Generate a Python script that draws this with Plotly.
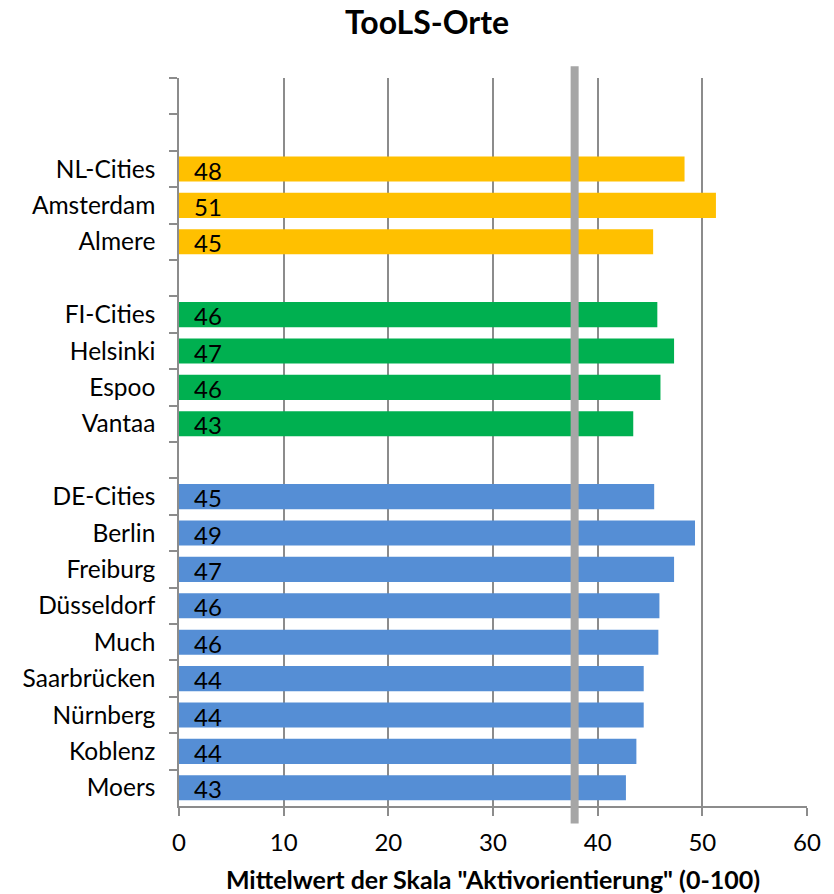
import plotly.graph_objects as go

# Rows from top to bottom; blank strings are spacer rows between country groups
categories = [" ", "  ", "NL-Cities", "Amsterdam", "Almere", "   ",
              "FI-Cities", "Helsinki", "Espoo", "Vantaa", "    ",
              "DE-Cities", "Berlin", "Freiburg", "Düsseldorf", "Much",
              "Saarbrücken", "Nürnberg", "Koblenz", "Moers"]

nl_cities = ["NL-Cities", "Amsterdam", "Almere"]
nl_values = [48.3, 51.3, 45.3]

fi_cities = ["FI-Cities", "Helsinki", "Espoo", "Vantaa"]
fi_values = [45.7, 47.3, 46.0, 43.4]

de_cities = ["DE-Cities", "Berlin", "Freiburg", "Düsseldorf", "Much",
             "Saarbrücken", "Nürnberg", "Koblenz", "Moers"]
de_values = [45.4, 49.3, 47.3, 45.9, 45.8, 44.4, 44.4, 43.7, 42.7]

reference_value = 37.8
x_ticks = [0, 10, 20, 30, 40, 50, 60]

FONT = "Lato"
groups = [
    (nl_cities, nl_values, "#FFC000"),
    (fi_cities, fi_values, "#00B050"),
    (de_cities, de_values, "#558ED5"),
]

fig = go.Figure()
annotations = []
for names, vals, color in groups:
    fig.add_trace(go.Bar(
        y=names, x=vals, orientation="h",
        marker=dict(color=color, line=dict(width=0)),
        showlegend=False, hoverinfo="x+y",
    ))
    for n, v in zip(names, vals):
        annotations.append(dict(
            x=0, y=n, xref="x", yref="y", text=f"{round(v)}",
            showarrow=False, xanchor="left", xshift=13, yshift=-1,
            font=dict(family=FONT, size=24, color="black"),
        ))

# vertical reference line extending slightly beyond the plot area
fig.add_shape(type="line", xref="x", yref="paper",
              x0=reference_value, x1=reference_value, y0=-0.024, y1=1.016,
              line=dict(color="#A6A6A6", width=8), layer="above")

fig.update_layout(
    width=834, height=894,
    margin=dict(l=179, r=27, t=78, b=88),
    paper_bgcolor="white", plot_bgcolor="white",
    bargap=0.31, barmode="overlay",
    title=dict(text="<b>TooLS-Orte</b>", x=0.512, xanchor="center",
               y=0.974, yanchor="middle",
               font=dict(family=FONT, size=32, color="black")),
    annotations=annotations,
    font=dict(family=FONT, size=24, color="black"),
)

fig.update_xaxes(
    range=[0, 60], tickvals=x_ticks, ticktext=[str(t) for t in x_ticks],
    showgrid=True, gridcolor="#8C8C8C", gridwidth=1.5,
    showline=True, linecolor="#8C8C8C", linewidth=1.5,
    ticks="outside", ticklen=8, tickcolor="#8C8C8C", tickwidth=1.5,
    tickfont=dict(family=FONT, size=24, color="black"),
    ticklabelstandoff=6,
    zeroline=False, automargin=False,
    title=dict(text='<b>Mittelwert der Skala "Aktivorientierung" (0-100)</b>',
               font=dict(family=FONT, size=25, color="black"), standoff=20),
)

fig.update_yaxes(
    type="category", categoryorder="array", categoryarray=categories,
    range=[len(categories) - 0.5, -0.5],
    showgrid=False, showline=True, linecolor="#8C8C8C", linewidth=1.5,
    ticks="outside", ticklen=8, tickcolor="#8C8C8C", tickwidth=1.5,
    tickson="boundaries", automargin=False,
    tickfont=dict(family=FONT, size=24.5, color="black"),
    ticklabelstandoff=17,
)

fig.write_html("out.html")
